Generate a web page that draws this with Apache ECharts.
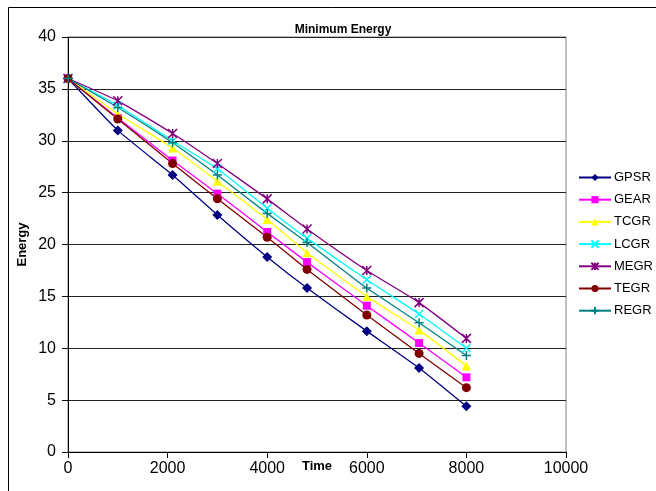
<!DOCTYPE html>
<html><head><meta charset="utf-8">
<script src="https://cdn.jsdelivr.net/npm/echarts@6/dist/echarts.min.js"></script>
<style>html,body{margin:0;padding:0;background:#fff}#c{width:656px;height:491px}</style>
</head><body><div id="c"></div>
<script>
const times = [0, 1000, 2100, 3000, 4000, 4800, 6000, 7050, 8000];
const GPSR = [36, 31.0, 26.7, 22.85, 18.8, 15.8, 11.65, 8.1, 4.4];
const GEAR = [36, 32.2, 28.1, 24.9, 21.2, 18.3, 14.1, 10.5, 7.2];
const TCGR = [36, 32.6, 29.3, 26.1, 22.4, 19.2, 15.0, 11.75, 8.3];
const LCGR = [36, 33.4, 30.0, 27.3, 23.5, 20.6, 16.6, 13.3, 10.0];
const MEGR = [36, 33.85, 30.7, 27.8, 24.4, 21.5, 17.5, 14.4, 10.95];
const TEGR = [36, 32.1, 27.8, 24.4, 20.7, 17.6, 13.2, 9.5, 6.2];
const REGR = [36, 33.2, 29.8, 26.7, 23.0, 20.2, 15.8, 12.45, 9.3];
const names = ['GPSR','GEAR','TCGR','LCGR','MEGR','TEGR','REGR'];
const values = [GPSR, GEAR, TCGR, LCGR, MEGR, TEGR, REGR];
const colors = ['#000080','#FF00FF','#FFFF00','#00FFFF','#800080','#800000','#008080'];
const symbols = ['diamond','rect','triangle',
  'path://M0,0L10,10M10,0L0,10',
  'path://M0,0L10,10M10,0L0,10M5,0L5,10',
  'circle',
  'path://M5,0L5,10M0,5L10,5'];
const lineSym = [false,false,false,true,true,false,true];
const sizes = [10,8,9,8,9,9,9];

const chart = echarts.init(document.getElementById('c'));
const font = 'Liberation Sans, Arial, sans-serif';
chart.setOption({
  animation: false,
  title: {text: 'Minimum Energy', left: 338, textAlign: 'center', top: 19,
    textStyle: {fontFamily: font, fontSize: 12, fontWeight: 'bold', color: '#000'}},
  graphic: [{type: 'rect', shape: {x: 8.5, y: 7.5, width: 800, height: 600},
    style: {fill: 'none', stroke: '#000', lineWidth: 1}, z: -1}],
  grid: {left: 68, right: 90, top: 37, bottom: 39, show: true, borderColor: '#808080', borderWidth: 1,
    outerBoundsMode: 'none', containLabel: false},
  legend: {orient: 'vertical', left: 573, top: 166, itemGap: 9.2, itemWidth: 32, itemHeight: 9,
    data: names, textStyle: {fontFamily: font, fontSize: 13, color: '#000', padding: [0,0,0,-2]}},
  xAxis: {type: 'value', min: 0, max: 10000, interval: 2000,
    name: 'Time', nameLocation: 'middle', nameGap: 8, nameMoveOverlap: false,
    nameTextStyle: {fontFamily: font, fontSize: 13, fontWeight: 'bold', color: '#000'},
    axisLine: {onZero: false, lineStyle: {color: '#000'}},
    axisTick: {length: 6, lineStyle: {color: '#000'}},
    axisLabel: {fontFamily: font, fontSize: 16, color: '#000', margin: 9, formatter: v => String(v)},
    splitLine: {show: false}},
  yAxis: {type: 'value', min: 0, max: 40, interval: 5,
    name: 'Energy', nameLocation: 'middle', nameGap: 39, nameMoveOverlap: false,
    nameTextStyle: {fontFamily: font, fontSize: 13, fontWeight: 'bold', color: '#000'},
    axisLine: {show: true, lineStyle: {color: '#000'}},
    axisTick: {show: true, length: 6, lineStyle: {color: '#000'}},
    axisLabel: {fontFamily: font, fontSize: 16, color: '#000', margin: 12},
    splitLine: {lineStyle: {color: '#222', width: 1}}},
  series: names.map((n, i) => ({
    name: n, type: 'line', smooth: 0.15,
    data: times.map((t, j) => [t, values[i][j]]),
    symbol: symbols[i], symbolSize: sizes[i],
    lineStyle: {color: colors[i], width: 1.3},
    itemStyle: lineSym[i] ? {color: 'rgba(0,0,0,0)', borderColor: colors[i], borderWidth: 1.5}
                          : {color: colors[i], borderColor: colors[i], borderWidth: 0}
  }))
});
</script></body></html>
